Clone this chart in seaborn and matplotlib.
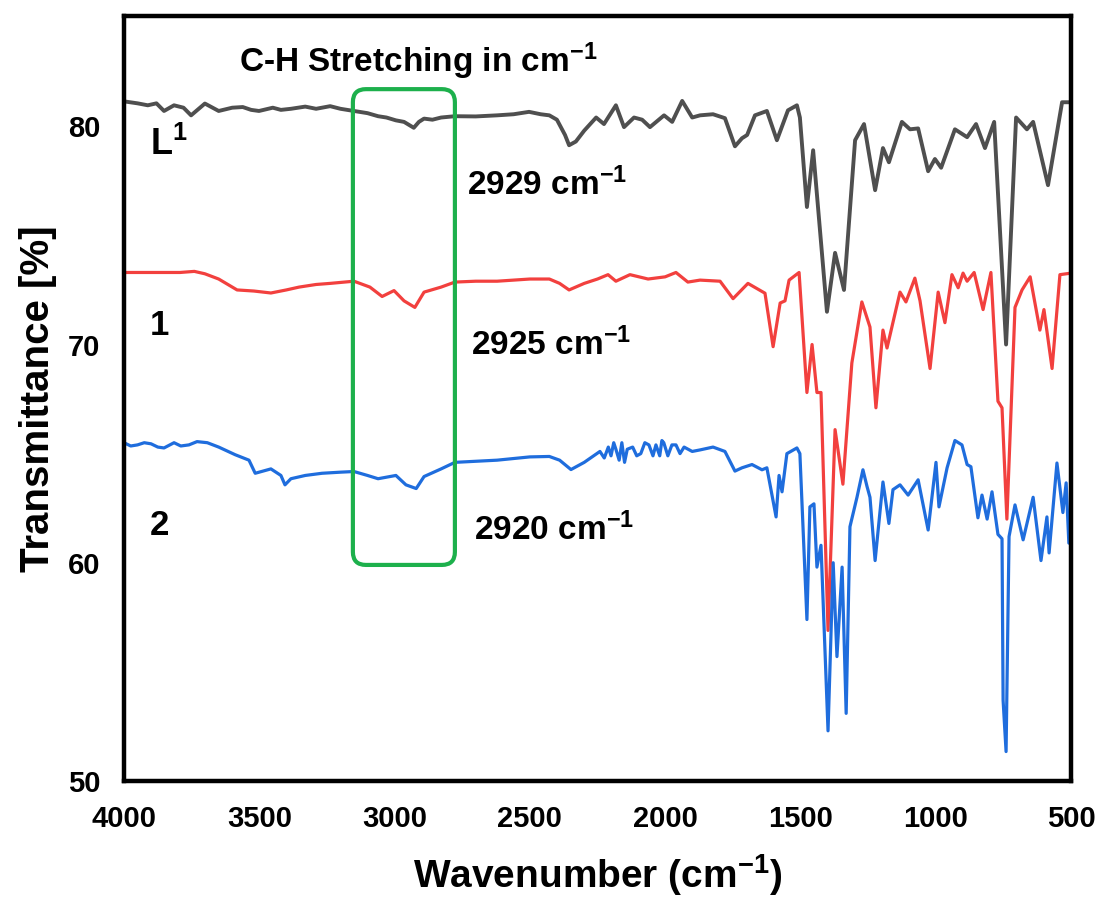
import numpy as np
import pandas as pd
import matplotlib
matplotlib.use("Agg")
import matplotlib.pyplot as plt
from matplotlib.patches import FancyBboxPatch
import seaborn as sns

# ---- FTIR spectra (wavenumber in cm-1, transmittance in %) ----
wn_L1 = [4000, 3950, 3912, 3880, 3852, 3815, 3780, 3752, 3701, 3650, 3600, 3561,
         3530, 3501, 3450, 3420, 3383, 3330, 3290, 3238, 3200, 3150, 3100, 3061,
         3030, 2995, 2965, 2929, 2910, 2891, 2860, 2828, 2777, 2700, 2621, 2560,
         2503, 2460, 2428, 2400, 2370, 2355, 2330, 2299, 2255, 2226, 2182, 2152,
         2115, 2085, 2056, 2004, 1974, 1937, 1900, 1871, 1823, 1779, 1742, 1716,
         1697, 1668, 1624, 1587, 1546, 1513, 1502, 1476, 1453, 1402, 1372, 1339,
         1298, 1265, 1224, 1195, 1173, 1125, 1095, 1065, 1028, 1003, 980, 929,
         884, 851, 818, 784, 740, 703, 663, 640, 585, 533, 500]
tr_L1 = [81.14, 81.05, 80.96, 81.05, 80.70, 80.96, 80.85, 80.50, 81.04, 80.70, 80.85, 80.88,
         80.75, 80.70, 80.85, 80.75, 80.80, 80.90, 80.80, 80.92, 80.80, 80.70, 80.60, 80.46,
         80.40, 80.27, 80.20, 79.93, 80.20, 80.35, 80.30, 80.40, 80.46, 80.45, 80.50, 80.55,
         80.66, 80.55, 80.50, 80.30, 79.60, 79.13, 79.30, 79.80, 80.40, 80.10, 80.96, 79.96,
         80.40, 80.30, 79.96, 80.50, 80.20, 81.16, 80.40, 80.50, 80.55, 80.37, 79.08, 79.45,
         79.60, 80.50, 80.70, 79.36, 80.73, 80.96, 80.40, 76.30, 78.90, 71.50, 74.20, 72.50,
         79.36, 80.10, 77.07, 79.00, 78.35, 80.20, 79.86, 79.90, 77.94, 78.50, 78.10, 79.86,
         79.50, 80.10, 79.00, 80.20, 70.00, 80.40, 79.86, 80.20, 77.30, 81.10, 81.10]

wn_c1 = [4000, 3880, 3793, 3740, 3701, 3650, 3582, 3520, 3457, 3400, 3353, 3290,
         3238, 3150, 3091, 3046, 3002, 2965, 2925, 2891, 2828, 2777, 2700, 2621,
         2500, 2428, 2390, 2355, 2299, 2250, 2211, 2182, 2130, 2063, 2000, 1960,
         1916, 1871, 1797, 1749, 1694, 1631, 1601, 1575, 1557, 1542, 1505, 1476,
         1457, 1439, 1424, 1398, 1372, 1343, 1310, 1273, 1243, 1221, 1195, 1180,
         1132, 1110, 1077, 1058, 1021, 991, 966, 940, 917, 899, 884, 858,
         825, 796, 770, 755, 737, 707, 681, 651, 615, 600, 570, 541, 500]
tr_c1 = [73.30, 73.30, 73.30, 73.35, 73.24, 73.00, 72.50, 72.45, 72.36, 72.50, 72.63, 72.75,
         72.80, 72.90, 72.63, 72.20, 72.47, 72.00, 71.70, 72.40, 72.63, 72.86, 72.90, 72.90,
         73.00, 73.00, 72.80, 72.50, 72.80, 73.00, 73.20, 72.90, 73.20, 73.00, 73.10, 73.30,
         72.86, 72.95, 72.90, 72.10, 72.80, 72.35, 69.90, 71.90, 72.00, 72.95, 73.30, 67.80,
         70.00, 67.80, 67.80, 56.90, 66.10, 63.60, 69.15, 71.95, 70.80, 67.10, 70.66, 69.84,
         72.40, 71.95, 73.04, 72.00, 68.90, 72.40, 71.00, 73.20, 72.60, 73.27, 72.90, 73.30,
         71.60, 73.30, 67.40, 67.10, 62.00, 71.70, 72.50, 73.10, 70.66, 71.60, 68.90, 73.20, 73.27]

wn_c2 = [4000, 3975, 3950, 3925, 3900, 3875, 3852, 3815, 3790, 3760, 3730, 3692,
         3650, 3589, 3538, 3515, 3457, 3420, 3405, 3383, 3330, 3268, 3200, 3150,
         3100, 3061, 2995, 2958, 2920, 2891, 2828, 2777, 2700, 2621, 2500, 2428,
         2390, 2348, 2299, 2241, 2225, 2210, 2200, 2190, 2182, 2170, 2160, 2150,
         2140, 2120, 2105, 2090, 2075, 2060, 2045, 2034, 2020, 2012, 2005, 1990,
         1975, 1960, 1945, 1930, 1900, 1871, 1823, 1779, 1742, 1716, 1679, 1642,
         1624, 1590, 1579, 1568, 1550, 1513, 1502, 1476, 1465, 1450, 1439, 1424,
         1398, 1379, 1365, 1346, 1331, 1317, 1291, 1269, 1254, 1243, 1224, 1195,
         1173, 1158, 1132, 1102, 1065, 1028, 999, 988, 958, 929, 903, 884,
         870, 844, 829, 810, 792, 770, 755, 751, 740, 729, 707, 677,
         640, 611, 589, 581, 552, 530, 518, 508]
tr_c2 = [65.50, 65.35, 65.40, 65.50, 65.45, 65.30, 65.26, 65.50, 65.35, 65.40, 65.55, 65.50,
         65.30, 64.95, 64.70, 64.10, 64.30, 64.00, 63.57, 63.85, 64.00, 64.10, 64.15, 64.18,
         64.00, 63.85, 64.00, 63.57, 63.40, 63.95, 64.30, 64.60, 64.65, 64.70, 64.85, 64.87,
         64.70, 64.27, 64.60, 65.10, 64.80, 65.30, 64.90, 65.50, 65.20, 64.70, 65.50, 64.60,
         65.20, 65.30, 64.90, 65.00, 65.50, 65.40, 64.90, 65.40, 64.90, 65.60, 65.50, 64.90,
         65.40, 65.40, 65.00, 65.30, 65.10, 65.17, 65.30, 65.10, 64.20, 64.35, 64.50, 64.26,
         64.35, 62.10, 64.00, 63.25, 65.00, 65.26, 65.00, 57.40, 62.56, 62.70, 59.80, 60.80,
         52.30, 60.00, 55.70, 59.80, 53.10, 61.65, 63.00, 64.26, 63.50, 63.00, 60.10, 63.70,
         61.80, 63.35, 63.57, 63.10, 63.80, 61.50, 64.60, 62.56, 64.35, 65.60, 65.40, 64.50,
         64.40, 62.06, 63.10, 62.00, 63.25, 61.30, 61.10, 53.70, 51.35, 61.20, 62.65, 61.05,
         63.00, 60.10, 62.10, 60.45, 64.57, 62.30, 63.66, 60.90]

series_names = ["L1", "1", "2"]
series_colors = {"L1": "#4f4f4f", "1": "#f2403e", "2": "#1f6ddd"}

frames = []
for name, wn, tr in zip(series_names, [wn_L1, wn_c1, wn_c2], [tr_L1, tr_c1, tr_c2]):
    frames.append(pd.DataFrame({"wavenumber": wn, "transmittance": tr, "sample": name}))
spectra = pd.DataFrame(pd.concat(frames, ignore_index=True))

# C-H stretching window (cm-1 / %)
ch_window_x = (3154, 2777)
ch_window_y = (59.9, 81.7)

sns.set_style("white")
plt.rcParams["font.family"] = ["Liberation Sans", "DejaVu Sans"]
plt.rcParams["font.weight"] = "bold"
plt.rcParams["text.color"] = "black"
plt.rcParams["axes.labelcolor"] = "black"
plt.rcParams["xtick.color"] = "black"
plt.rcParams["ytick.color"] = "black"
plt.rcParams["mathtext.fontset"] = "custom"
plt.rcParams["mathtext.rm"] = "Liberation Sans:bold"
plt.rcParams["mathtext.bf"] = "Liberation Sans:bold"
plt.rcParams["mathtext.it"] = "Liberation Sans:bold"

fig = plt.figure(figsize=(11.03, 9.11), dpi=100)
ax = fig.add_axes([0.1124, 0.1427, 0.971 - 0.1124, 0.9824 - 0.1427])

for name in series_names:
    sub = spectra[spectra["sample"] == name]
    lw = 2.8 if name == "L1" else 2.3
    sns.lineplot(data=sub, x="wavenumber", y="transmittance", color=series_colors[name],
                 lw=lw, estimator=None, sort=False, ax=ax, legend=False)

ax.set_xlim(4000, 500)
ax.set_ylim(50, 85.05)
ax.set_xticks([4000, 3500, 3000, 2500, 2000, 1500, 1000, 500])
ax.set_yticks([50, 60, 70, 80])
ax.tick_params(axis="both", which="major", direction="out", length=11, width=3,
               labelsize=21, pad=6, color="black", labelcolor="black")
for lab in ax.get_xticklabels() + ax.get_yticklabels():
    lab.set_fontweight("bold")
for sp in ax.spines.values():
    sp.set_linewidth(3.2)
    sp.set_color("black")

ax.set_xlabel(r"Wavenumber (cm$^{-1}$)", fontsize=28, fontweight="bold", labelpad=14)
ax.set_ylabel("Transmittance [%]", fontsize=29, fontweight="bold", labelpad=8)

# series labels
ax.text(3905, 78.67, r"L$^{1}$", fontsize=26, fontweight="bold", ha="left", va="baseline")
ax.text(3905, 70.43, "1", fontsize=25, fontweight="bold", ha="left", va="baseline")
ax.text(3905, 61.28, "2", fontsize=25, fontweight="bold", ha="left", va="baseline")

# peak annotations
ax.text(2732, 76.84, r"2929 cm$^{-1}$", fontsize=24, fontweight="bold", ha="left", va="baseline")
ax.text(2718, 69.50, r"2925 cm$^{-1}$", fontsize=24, fontweight="bold", ha="left", va="baseline")
ax.text(2706, 61.05, r"2920 cm$^{-1}$", fontsize=24, fontweight="bold", ha="left", va="baseline")
ax.text(2913, 82.47, r"C-H Stretching in cm$^{-1}$", fontsize=24, fontweight="bold",
        ha="center", va="baseline")

# rounded frame around the C-H stretching region, drawn in pixel space
fig.canvas.draw()
(x0, y0) = ax.transData.transform((ch_window_x[0], ch_window_y[0]))
(x1, y1) = ax.transData.transform((ch_window_x[1], ch_window_y[1]))
box = FancyBboxPatch((x0, y0), x1 - x0, y1 - y0,
                     boxstyle="round,pad=0,rounding_size=13",
                     transform=None, fill=False, edgecolor="#1db04c", lw=3.0,
                     clip_on=False, zorder=5)
fig.patches.append(box)

fig.savefig("out.png", dpi=100, facecolor="white")
